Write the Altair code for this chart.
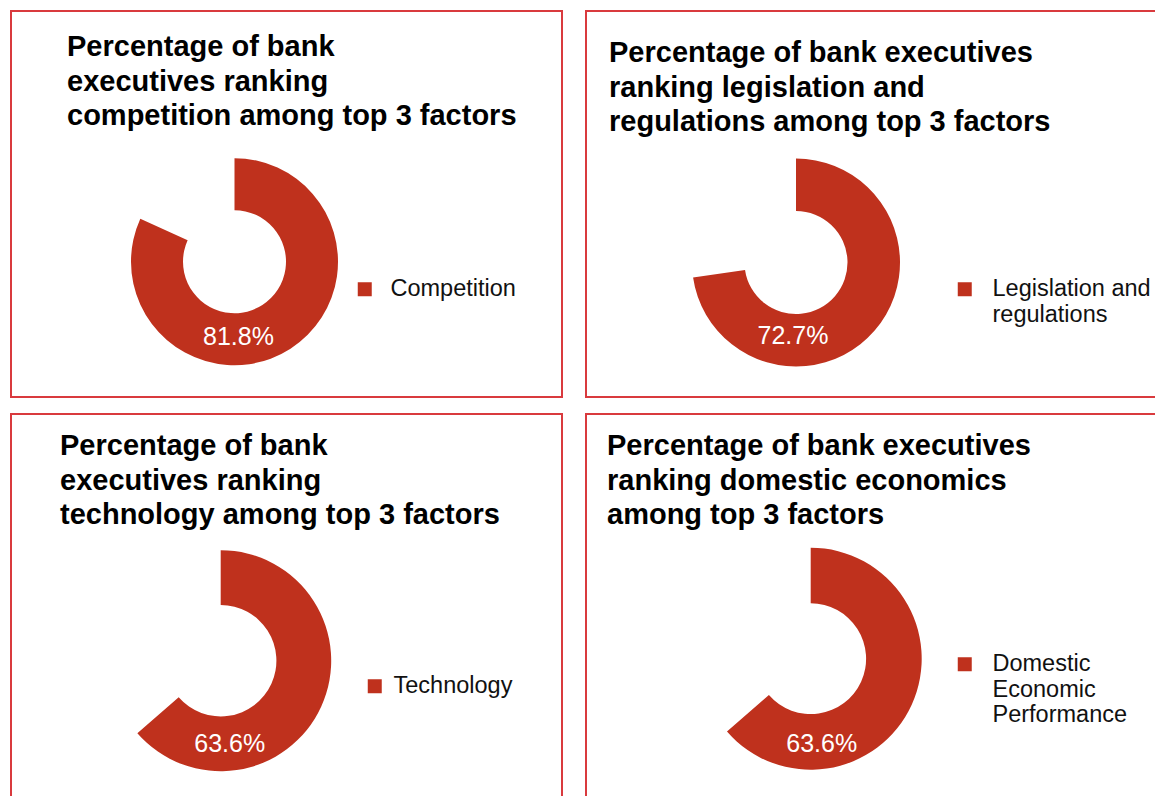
import altair as alt
import pandas as pd

# ---- data ----
factors = ["Competition", "Legislation and regulations", "Technology", "Domestic Economic Performance"]
values = [81.8, 72.7, 63.6, 63.6]
value_labels = ["81.8%", "72.7%", "63.6%", "63.6%"]
titles = [
    ["Percentage of bank", "executives ranking", "competition among top 3 factors"],
    ["Percentage of bank executives", "ranking legislation and", "regulations among top 3 factors"],
    ["Percentage of bank", "executives ranking", "technology among top 3 factors"],
    ["Percentage of bank executives", "ranking domestic economics", "among top 3 factors"],
]
legend_lines = [
    ["Competition"],
    ["Legislation and", "regulations"],
    ["Technology"],
    ["Domestic", "Economic", "Performance"],
]

# ---- styling / layout (pixels, relative to each panel) ----
ARC_COLOR = "#bf311d"
BORDER = "#d93a3e"
FONT = "Liberation Sans"
panels = [
    dict(w=553, h=388, sides="ltrb", cx=224.5, cy=251.7, R=103.5, r=51.5, ldx=4, ldy=75,
         tx=57, ty=46, lx=343, ly=267.5, lo=14),
    dict(w=570, h=388, sides="ltb", cx=211.0, cy=252.5, R=104.0, r=51.5, ldx=-3, ldy=73.5,
         tx=24, ty=52, lx=368, ly=267.5, lo=16),
    dict(w=553, h=388, sides="ltr", cx=210.7, cy=247.7, R=110.5, r=55.7, ldx=9, ldy=83,
         tx=50, ty=42, lx=353, ly=261.5, lo=7),
    dict(w=570, h=388, sides="lt", cx=225.7, cy=245.7, R=111.0, r=55.4, ldx=11, ldy=85,
         tx=22, ty=42, lx=368, ly=239.5, lo=16),
]

label_map = " : ".join(
    f"datum.label == '{f}' ? {lines!r}" for f, lines in zip(factors, legend_lines)
) + " : datum.label"


def panel(i):
    p = panels[i]
    w, h = p["w"], p["h"]
    df = pd.DataFrame({
        "factor": [factors[i]],
        "value": [values[i]],
        "label": [value_labels[i]],
        "title": ["\n".join(titles[i])],
    })
    base = alt.Chart(df)
    rule = base.mark_rule(color=BORDER, strokeWidth=2)
    frame = []
    if "l" in p["sides"]:
        frame.append(rule.encode(x=alt.value(1), y=alt.value(0), y2=alt.value(h)))
    if "t" in p["sides"]:
        frame.append(rule.encode(x=alt.value(0), x2=alt.value(w), y=alt.value(1)))
    if "r" in p["sides"]:
        frame.append(rule.encode(x=alt.value(w - 1), y=alt.value(0), y2=alt.value(h)))
    if "b" in p["sides"]:
        frame.append(rule.encode(x=alt.value(0), x2=alt.value(w), y=alt.value(h - 1)))

    arc = base.mark_arc(
        x=p["cx"], y=p["cy"], outerRadius=p["R"], innerRadius=p["r"]
    ).encode(
        theta=alt.Theta("value:Q", scale=alt.Scale(domain=[0, 100]), stack=True),
        color=alt.Color(
            "factor:N",
            scale=alt.Scale(range=[ARC_COLOR]),
            legend=alt.Legend(
                title=None, orient="none", legendX=p["lx"], legendY=p["ly"],
                symbolType="square", symbolSize=196, symbolStrokeWidth=0,
                labelFont=FONT, labelFontSize=23.5, labelColor="#111111",
                labelLimit=0, labelOffset=p["lo"], padding=0, labelExpr=label_map,
            ),
        ),
    )
    val = base.mark_text(
        x=p["cx"], y=p["cy"], dx=p["ldx"], dy=p["ldy"], align="center", baseline="middle",
        font=FONT, fontSize=25, color="white",
    ).encode(text="label:N")
    ttl = base.mark_text(
        x=p["tx"], y=p["ty"], align="left", baseline="alphabetic", lineBreak="\n",
        font=FONT, fontSize=29, fontWeight="bold", lineHeight=34.5, color="#000000",
    ).encode(text="title:N")
    return alt.layer(*frame, arc, val, ttl).properties(width=w, height=h)


row1 = alt.hconcat(panel(0), panel(1), spacing=20).resolve_scale(color="independent").resolve_legend(color="independent")
row2 = alt.hconcat(panel(2), panel(3), spacing=20).resolve_scale(color="independent").resolve_legend(color="independent")
chart = alt.vconcat(row1, row2, spacing=13).resolve_scale(color="independent").resolve_legend(color="independent").properties(
    padding={"left": 1, "top": 1, "right": 0, "bottom": 0},
    background="white",
).configure_view(strokeWidth=0)

chart.save("out.html", embed_options={"renderer": "svg", "actions": False})
